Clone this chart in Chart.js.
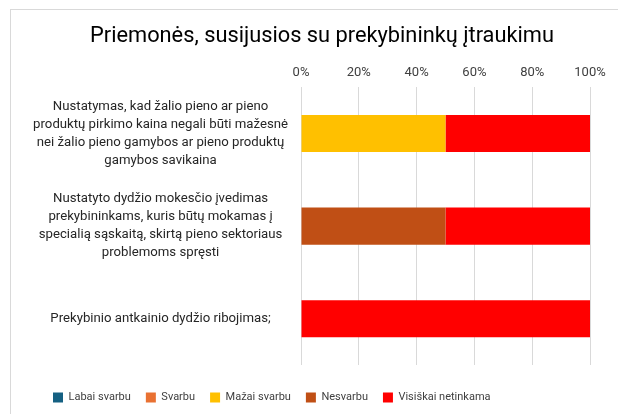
<!DOCTYPE html>
<html>
<head>
<meta charset="utf-8">
<script src="https://cdn.jsdelivr.net/npm/chart.js@4"></script>
<style>
  html, body { margin: 0; padding: 0; background: #fff; overflow: hidden; }
  #frame { position: absolute; left: 10px; top: 9px; width: 700px; height: 500px; border: 1px solid #d9d9d9; }
  #wrap { position: absolute; left: 0; top: 0; width: 618px; height: 414px; }
</style>
</head>
<body>
<div id="frame"></div>
<div id="wrap"><canvas id="chart" width="618" height="414"></canvas></div>
<script>
const titleText = 'Priemonės, susijusios su prekybininkų įtraukimu';

const categories = [
  ['Nustatymas, kad žalio pieno ar pieno', 'produktų pirkimo kaina negali būti mažesnė', 'nei žalio pieno gamybos ar pieno produktų', 'gamybos savikaina'],
  ['Nustatyto dydžio mokesčio įvedimas', 'prekybininkams, kuris būtų mokamas į', 'specialią sąskaitą, skirtą pieno sektoriaus', 'problemoms spręsti'],
  'Prekybinio antkainio dydžio ribojimas;'
];

const seriesNames = ['Labai svarbu', 'Svarbu', 'Mažai svarbu', 'Nesvarbu', 'Visiškai netinkama'];
const seriesColors = ['#156082', '#E97132', '#FFC000', '#C04F15', '#FF0000'];

const labaiSvarbu = [0, 0, 0];
const svarbu = [0, 0, 0];
const mazaiSvarbu = [50, 0, 0];
const nesvarbu = [0, 50, 0];
const visiskaiNetinkama = [50, 50, 100];

const seriesValues = [labaiSvarbu, svarbu, mazaiSvarbu, nesvarbu, visiskaiNetinkama];

const datasets = seriesNames.map((name, i) => ({
  label: name,
  data: seriesValues[i],
  backgroundColor: seriesColors[i],
  borderWidth: 0,
  barPercentage: 0.4,
  categoryPercentage: 1
}));

// nudge title and legend to where the original has them
const boxShift = {
  id: 'boxShift',
  afterLayout(chart) {
    chart.legend.left += 28;
    chart.legend.right += 28;
    chart.legend.top += 12;
    chart.legend.bottom += 12;
    chart.titleBlock.left += 22;
    chart.titleBlock.right += 22;
  }
};

Chart.defaults.font.family = 'Roboto';
Chart.defaults.color = '#404040';

new Chart(document.getElementById('chart').getContext('2d'), {
  type: 'bar',
  data: { labels: categories, datasets: datasets },
  plugins: [boxShift],
  options: {
    indexAxis: 'y',
    responsive: false,
    animation: false,
    layout: { padding: { left: 10, right: 28, top: 23, bottom: 13 } },
    scales: {
      x: {
        stacked: true,
        position: 'top',
        min: 0,
        max: 100,
        ticks: { stepSize: 20, padding: 7, color: '#404040', font: { size: 13 }, callback: v => v + '%' },
        grid: { color: '#d9d9d9', drawTicks: false },
        border: { display: false }
      },
      y: {
        stacked: true,
        ticks: { crossAlign: 'center', padding: 5, color: '#262626', font: { size: 13.2, lineHeight: 1.364 } },
        grid: { display: false },
        border: { display: false },
        afterFit: scale => {
          scale.width = 291;
          scale.paddingTop = 0;
          scale.paddingBottom = 0;
        }
      }
    },
    plugins: {
      title: {
        display: true,
        text: titleText,
        color: '#000',
        font: { size: 21.8, weight: 'normal' },
        padding: { top: 0, bottom: 8.5 }
      },
      legend: {
        position: 'bottom',
        align: 'start',
        labels: { boxWidth: 10, boxHeight: 10, padding: 15, color: '#404040', font: { size: 11 } }
      },
      tooltip: { enabled: false }
    }
  }
});
</script>
</body>
</html>
